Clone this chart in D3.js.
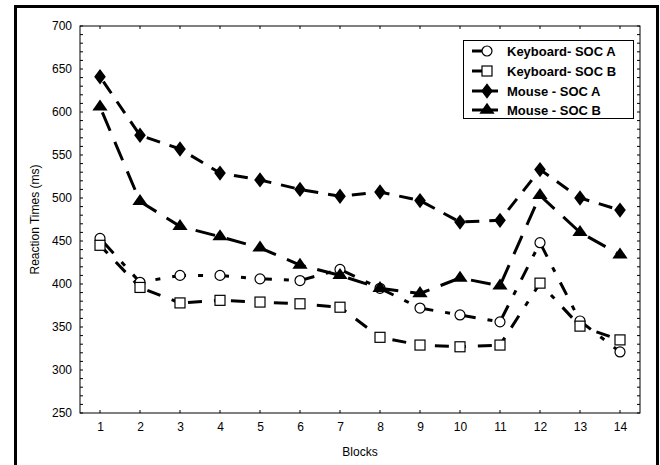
<!DOCTYPE html>
<html><head><meta charset="utf-8">
<script src="https://cdn.jsdelivr.net/npm/d3@7"></script>
<style>body{margin:0;background:#fff}svg{display:block}text{font-family:"Liberation Sans",Arial,sans-serif}</style>
</head><body><svg id="c" width="660" height="465"></svg>
<script>
const blocks = [1,2,3,4,5,6,7,8,9,10,11,12,13,14];
const keyboardA = [453,402,410,410,406,404,417,395,372,364,356,448,357,321];
const keyboardB = [445,396,378,381,379,377,373,338,329,327,329,401,351,335];
const mouseA = [641,573,557,529,521,510,502,507,497,472,474,533,500,486];
const mouseB = [606,496,467,455,442,422,410,395,389,407,398,503,460,434];
const seriesNames = ["Keyboard- SOC A","Keyboard- SOC B","Mouse - SOC A","Mouse - SOC B"];
const yTicks = [250,300,350,400,450,500,550,600,650,700];

const svg = d3.select("#c");
const L=80,R=640,T=26,B=413;
const x = d3.scaleLinear().domain([0.5,14.5]).range([L,R]);
const y = d3.scaleLinear().domain([250,700]).range([B,T]);

// outer border
svg.append("rect").attr("x",15.5).attr("y",6.5).attr("width",642).attr("height",470)
  .attr("fill","none").attr("stroke","#000").attr("stroke-width",3);

// frame
svg.append("rect").attr("x",L).attr("y",T).attr("width",R-L).attr("height",B-T)
  .attr("fill","none").attr("stroke","#000").attr("stroke-width",1);

const minor = d3.range(250,701,10);
const gl = svg.append("g").attr("transform",`translate(${L},0)`)
  .call(d3.axisLeft(y).tickValues(yTicks).tickSize(0).tickPadding(8));
gl.select(".domain").remove();
gl.selectAll("text").attr("font-size",12).attr("fill","#000");
svg.append("g").selectAll("line").data(minor).join("line")
  .attr("x1",L).attr("x2",L+3).attr("y1",d=>y(d)).attr("y2",d=>y(d)).attr("stroke","#000");
svg.append("g").selectAll("line").data(minor).join("line")
  .attr("x1",R).attr("x2",R-3).attr("y1",d=>y(d)).attr("y2",d=>y(d)).attr("stroke","#000");
svg.append("g").selectAll("line").data(blocks).join("line")
  .attr("x1",d=>x(d)).attr("x2",d=>x(d)).attr("y1",B).attr("y2",B-3).attr("stroke","#000");
svg.append("g").selectAll("line").data(blocks).join("line")
  .attr("x1",d=>x(d)).attr("x2",d=>x(d)).attr("y1",T).attr("y2",T+3).attr("stroke","#000");

const gb = svg.append("g").attr("transform",`translate(0,${B})`)
  .call(d3.axisBottom(x).tickValues(blocks).tickFormat(d3.format("d")).tickSize(0).tickPadding(9));
gb.select(".domain").remove();
gb.selectAll("text").attr("font-size",12).attr("fill","#000");

svg.append("text").attr("x",(L+R)/2).attr("y",456).attr("text-anchor","middle")
  .attr("font-size",12).text("Blocks");
svg.append("text").attr("transform",`translate(39,${(T+B)/2}) rotate(-90)`).attr("text-anchor","middle")
  .attr("font-size",12).text("Reaction Times (ms)");

const dashes = ["14,12,5,12","5,12,14,12","14,10","20,12"];
const data = [keyboardA,keyboardB,mouseA,mouseB];
const shapes = ["circle","square","diamond","triangle"];
const line = d3.line().x((d,i)=>x(blocks[i])).y(d=>y(d));

function marker(g,shape,cx,cy){
  if(shape==="circle") g.append("circle").attr("cx",cx).attr("cy",cy).attr("r",5).attr("fill","#fff").attr("stroke","#000").attr("stroke-width",1.2);
  else if(shape==="square") g.append("rect").attr("x",cx-5).attr("y",cy-5).attr("width",10).attr("height",10).attr("fill","#fff").attr("stroke","#000").attr("stroke-width",1.2);
  else if(shape==="diamond") g.append("path").attr("d",d3.symbol(d3.symbolDiamond,75)()).attr("transform",`translate(${cx},${cy}) scale(1.25,0.95)`).attr("fill","#000");
  else g.append("path").attr("d",d3.symbol(d3.symbolTriangle,70)()).attr("transform",`translate(${cx},${cy}) scale(1.2,1)`).attr("fill","#000");
}

data.forEach((s,k)=>{
  svg.append("path").datum(s).attr("d",line).attr("fill","none").attr("stroke","#000")
    .attr("stroke-width",3).attr("stroke-dasharray",dashes[k]).attr("stroke-dashoffset",-6);
});
data.forEach((s,k)=>{
  const g = svg.append("g");
  s.forEach((v,i)=>marker(g,shapes[k],x(blocks[i]),y(v)));
});

// legend
const lg = svg.append("g");
lg.append("rect").attr("x",463.5).attr("y",40.5).attr("width",170).attr("height",78)
  .attr("fill","#fff").attr("stroke","#000").attr("stroke-width",1);
const ly = [51,71,91,110];
seriesNames.forEach((n,k)=>{
  const x1 = 472, x2 = k<2 ? 492 : 498, cx = 487;
  lg.append("line").attr("x1",x1).attr("x2",x2).attr("y1",ly[k]).attr("y2",ly[k]).attr("stroke","#000").attr("stroke-width",3);
  marker(lg,shapes[k],cx,ly[k]);
  lg.append("text").attr("x",507).attr("y",ly[k]+4.5).attr("font-size",13).attr("font-weight","bold").text(n);
});
</script></body></html>
